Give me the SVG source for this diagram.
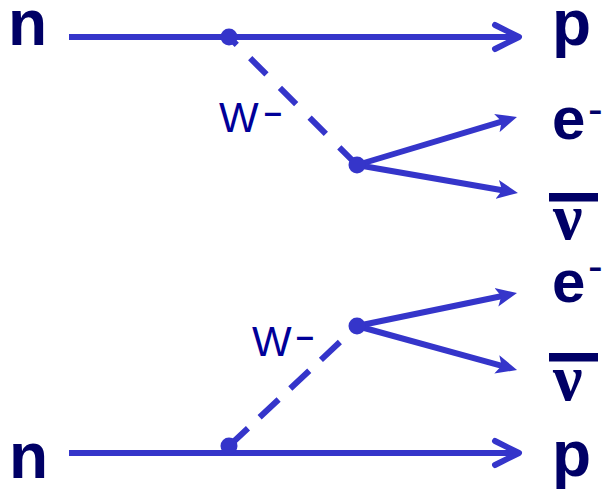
<svg xmlns="http://www.w3.org/2000/svg" width="603" height="491" viewBox="0 0 603 491">
  <style>
    .lbl { font-family: "Liberation Sans", Arial, sans-serif; font-weight: bold; fill: #000066; }
    .nu { font-family: "Liberation Serif", "Times New Roman", serif; font-weight: bold; fill: #000066; }
    .w { font-family: "Liberation Sans", Arial, sans-serif; fill: #000099; }
    .sup { font-family: "Liberation Sans", Arial, sans-serif; fill: #000066; }
    .bar { fill: #000066; }
    .line { stroke: #3535CA; stroke-width: 6; fill: none; }
    .dash { stroke: #3535CA; stroke-width: 6; fill: none; }
    .vtx { fill: #3535CA; }
  </style>
  <defs>
    <marker id="open" viewBox="-30 -16 34 32" refX="0" refY="0" markerWidth="34" markerHeight="32" markerUnits="userSpaceOnUse" orient="auto">
      <path d="M-24,-12 L0,0 L-24,12" fill="none" stroke="#3535CA" stroke-width="6" stroke-linecap="round" stroke-linejoin="round"/>
    </marker>
    <marker id="fill" viewBox="0 0 21 20" refX="11" refY="10" markerWidth="21" markerHeight="20" markerUnits="userSpaceOnUse" orient="auto">
      <path d="M0,0.5 L21,10 L0,19.5 L5,10 Z" fill="#3535CA"/>
    </marker>
  </defs>

  <g id="connectors">
    <path class="line" d="M69,37 H519" marker-end="url(#open)"/>
    <path class="dash" d="M229,37 L357,165" stroke-dasharray="23 19" stroke-dashoffset="12"/>
    <path class="line" d="M357,165 L507.4,119.9" marker-end="url(#fill)"/>
    <path class="line" d="M357,165 L508.1,191.3" marker-end="url(#fill)"/>
    <path class="dash" d="M229,446 L357,326" stroke-dasharray="26 16"/>
    <path class="line" d="M357,326 L507.2,295" marker-end="url(#fill)"/>
    <path class="line" d="M357,326 L507.4,367.3" marker-end="url(#fill)"/>
    <path class="line" d="M69,453 H519" marker-end="url(#open)"/>
  </g>

  <g id="vertex-top-1"><circle class="vtx" cx="229" cy="37" r="8.5"/></g>
  <g id="vertex-top-2"><circle class="vtx" cx="357" cy="165" r="8.5"/></g>
  <g id="vertex-bottom-2"><circle class="vtx" cx="357" cy="326" r="8.5"/></g>
  <g id="vertex-bottom-1"><circle class="vtx" cx="229" cy="446" r="8.5"/></g>

  <g id="n-top"><text class="lbl" x="8" y="45" font-size="64">n</text></g>
  <g id="p-top"><text class="lbl" x="552" y="45" font-size="64">p</text></g>
  <g id="w-top"><text class="w" x="219" y="132" font-size="42">W<tspan x="264" y="123" font-size="32" font-weight="bold">–</tspan></text></g>
  <g id="e-top"><text class="lbl" x="552" y="139" font-size="60">e<tspan class="sup" x="588" y="124" font-size="44" font-weight="normal">-</tspan></text></g>
  <g id="nubar-top">
    <rect class="bar" x="549" y="193" width="49" height="8.5"/>
    <text class="nu" x="553" y="239" font-size="66">ν</text>
  </g>

  <g id="e-bottom"><text class="lbl" x="552" y="302" font-size="60">e<tspan class="sup" x="588" y="281" font-size="44" font-weight="normal">-</tspan></text></g>
  <g id="w-bottom"><text class="w" x="252" y="356" font-size="42">W<tspan x="296" y="347" font-size="32" font-weight="bold">–</tspan></text></g>
  <g id="nubar-bottom">
    <rect class="bar" x="549" y="353" width="49" height="8.5"/>
    <text class="nu" x="553" y="400" font-size="66">ν</text>
  </g>
  <g id="n-bottom"><text class="lbl" x="9" y="478" font-size="64">n</text></g>
  <g id="p-bottom"><text class="lbl" x="552" y="476" font-size="64">p</text></g>
</svg>
